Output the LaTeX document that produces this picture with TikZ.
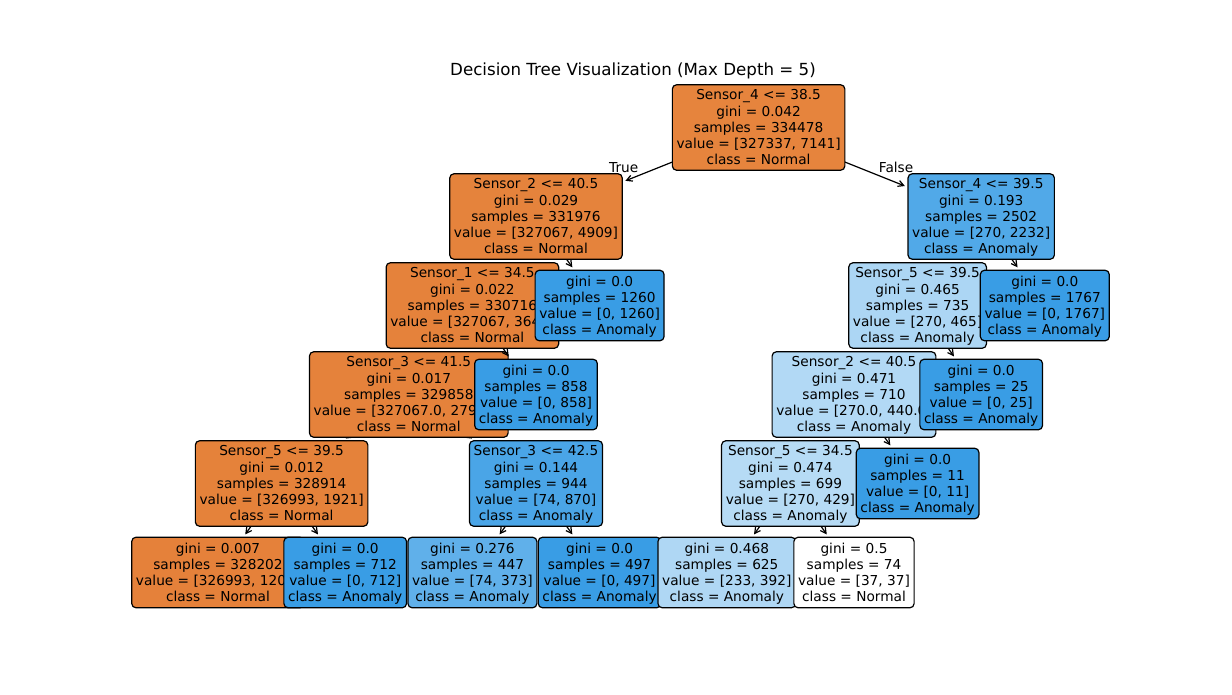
\documentclass[tikz,border=0pt]{standalone}
\usepackage{fontspec}
\setmainfont{DejaVu Sans}
\usetikzlibrary{arrows.meta,calc}
\newcommand{\boxfont}{\fontsize{10.27pt}{12pt}\selectfont}
\newcommand{\titlefont}{\fontsize{12.5pt}{14pt}\selectfont}
\newcommand{\nodestrut}{\rule[-2.4pt]{0pt}{12pt}}
\newcommand{\txtfive}[5]{\nodestrut#1\\\nodestrut#2\\\nodestrut#3\\\nodestrut#4\\\nodestrut#5}
\newcommand{\txtfour}[4]{\nodestrut#1\\\nodestrut#2\\\nodestrut#3\\\nodestrut#4}
\definecolor{blueleaf}{RGB}{57,157,229}
\definecolor{colroot}{RGB}{230,132,61}
\definecolor{colA}{RGB}{229,131,60}
\definecolor{colB}{RGB}{229,130,59}
\definecolor{colC}{RGB}{229,130,59}
\definecolor{colD}{RGB}{229,130,58}
\definecolor{colE}{RGB}{229,129,58}
\definecolor{colG}{RGB}{74,165,231}
\definecolor{colH}{RGB}{96,176,234}
\definecolor{colL}{RGB}{81,169,232}
\definecolor{colM}{RGB}{172,214,244}
\definecolor{colN}{RGB}{178,217,245}
\definecolor{colO}{RGB}{182,219,245}
\definecolor{colP}{RGB}{175,215,244}
\begin{document}
\begin{tikzpicture}[x=0.75pt,y=-0.75pt,
  tbox/.style={draw=black, line width=0.9pt, rounded corners=3.15pt, inner xsep=3.15pt, inner ysep=0pt, align=center, font=\boxfont},
  five/.style={tbox, minimum height=64.1pt},
  four/.style={tbox, minimum height=52.9pt},
  arr/.style={-{Straight Barb[length=4.2pt,width=4.6pt]}, line width=0.9pt, shorten >=2.1pt},
  lbl/.style={font=\boxfont, inner sep=0pt}]
\fill[white] (0,0) rectangle (1232,694);
\useasboundingbox (0,0) rectangle (1232,694);
% centres
\coordinate (c0) at (758.6,127.5);
\coordinate (cA) at (536,216.5);
\coordinate (cB) at (472.4,305.5);
\coordinate (cC) at (408.8,394.5);
\coordinate (cD) at (281.6,483.5);
\coordinate (cE) at (218,572.5);
\coordinate (cF) at (345.2,572.5);
\coordinate (cG) at (536,483.5);
\coordinate (cH) at (472.4,572.5);
\coordinate (cI) at (599.6,572.5);
\coordinate (cJ) at (536,394.5);
\coordinate (cK) at (599.6,305.5);
\coordinate (cL) at (981.2,216.5);
\coordinate (cM) at (917.6,305.5);
\coordinate (cN) at (854,394.5);
\coordinate (cO) at (790.4,483.5);
\coordinate (cP) at (726.8,572.5);
\coordinate (cQ) at (854,572.5);
\coordinate (cR) at (917.6,483.5);
\coordinate (cS) at (981.2,394.5);
\coordinate (cT) at (1044.8,305.5);
% depth 5
\node[four, fill=colE] (nE) at (cE) {\txtfour{gini = 0.007}{samples = 328202}{value = [326993, 1209]}{class = Normal}};
\draw[arr] (cD) -- (nE);
\node[four, fill=blueleaf] (nF) at (cF) {\txtfour{gini = 0.0}{samples = 712}{value = [0, 712]}{class = Anomaly}};
\draw[arr] (cD) -- (nF);
\node[four, fill=colH] (nH) at (cH) {\txtfour{gini = 0.276}{samples = 447}{value = [74, 373]}{class = Anomaly}};
\draw[arr] (cG) -- (nH);
\node[four, fill=blueleaf] (nI) at (cI) {\txtfour{gini = 0.0}{samples = 497}{value = [0, 497]}{class = Anomaly}};
\draw[arr] (cG) -- (nI);
\node[four, fill=colP] (nP) at (cP) {\txtfour{gini = 0.468}{samples = 625}{value = [233, 392]}{class = Anomaly}};
\draw[arr] (cO) -- (nP);
\node[four, fill=white] (nQ) at (cQ) {\txtfour{gini = 0.5}{samples = 74}{value = [37, 37]}{class = Normal}};
\draw[arr] (cO) -- (nQ);
% depth 4
\node[five, fill=colD] (nD) at (cD) {\txtfive{Sensor\_5 <= 39.5}{gini = 0.012}{samples = 328914}{value = [326993, 1921]}{class = Normal}};
\draw[arr] (cC) -- (nD);
\node[five, fill=colG] (nG) at (cG) {\txtfive{Sensor\_3 <= 42.5}{gini = 0.144}{samples = 944}{value = [74, 870]}{class = Anomaly}};
\draw[arr] (cC) -- (nG);
\node[five, fill=colO] (nO) at (cO) {\txtfive{Sensor\_5 <= 34.5}{gini = 0.474}{samples = 699}{value = [270, 429]}{class = Anomaly}};
\draw[arr] (cN) -- (nO);
\node[four, fill=blueleaf] (nR) at (cR) {\txtfour{gini = 0.0}{samples = 11}{value = [0, 11]}{class = Anomaly}};
\draw[arr] (cN) -- (nR);
% depth 3
\node[five, fill=colC] (nC) at (cC) {\txtfive{Sensor\_3 <= 41.5}{gini = 0.017}{samples = 329858}{value = [327067.0, 2791.0]}{class = Normal}};
\draw[arr] (cB) -- (nC);
\node[four, fill=blueleaf] (nJ) at (cJ) {\txtfour{gini = 0.0}{samples = 858}{value = [0, 858]}{class = Anomaly}};
\draw[arr] (cB) -- (nJ);
\node[five, fill=colN] (nN) at (cN) {\txtfive{Sensor\_2 <= 40.5}{gini = 0.471}{samples = 710}{value = [270.0, 440.0]}{class = Anomaly}};
\draw[arr] (cM) -- (nN);
\node[four, fill=blueleaf] (nS) at (cS) {\txtfour{gini = 0.0}{samples = 25}{value = [0, 25]}{class = Anomaly}};
\draw[arr] (cM) -- (nS);
% depth 2
\node[five, fill=colB] (nB) at (cB) {\txtfive{Sensor\_1 <= 34.5}{gini = 0.022}{samples = 330716}{value = [327067, 3649]}{class = Normal}};
\draw[arr] (cA) -- (nB);
\node[four, fill=blueleaf] (nK) at (cK) {\txtfour{gini = 0.0}{samples = 1260}{value = [0, 1260]}{class = Anomaly}};
\draw[arr] (cA) -- (nK);
\node[five, fill=colM] (nM) at (cM) {\txtfive{Sensor\_5 <= 39.5}{gini = 0.465}{samples = 735}{value = [270, 465]}{class = Anomaly}};
\draw[arr] (cL) -- (nM);
\node[four, fill=blueleaf] (nT) at (cT) {\txtfour{gini = 0.0}{samples = 1767}{value = [0, 1767]}{class = Anomaly}};
\draw[arr] (cL) -- (nT);
% depth 1
\node[five, fill=colA] (nA) at (cA) {\txtfive{Sensor\_2 <= 40.5}{gini = 0.029}{samples = 331976}{value = [327067, 4909]}{class = Normal}};
\draw[arr] (c0) -- (nA);
\node[five, fill=colL] (nL) at (cL) {\txtfive{Sensor\_4 <= 39.5}{gini = 0.193}{samples = 2502}{value = [270, 2232]}{class = Anomaly}};
\draw[arr] (c0) -- (nL);
% root
\node[five, fill=colroot] (n0) at (c0) {\txtfive{Sensor\_4 <= 38.5}{gini = 0.042}{samples = 334478}{value = [327337, 7141]}{class = Normal}};
% True / False
\node[lbl, anchor=base east, xshift=-6.53pt] (tTrue) at ($(c0)!0.5!(cA)$) {True};
\node[lbl, anchor=base west, xshift=6.53pt] (tFalse) at ($(c0)!0.5!(cL)$) {False};
% title
\node[font=\titlefont, inner sep=0pt, anchor=base] (title) at (633,75) {Decision Tree Visualization (Max Depth = 5)};
\end{tikzpicture}
\end{document}
